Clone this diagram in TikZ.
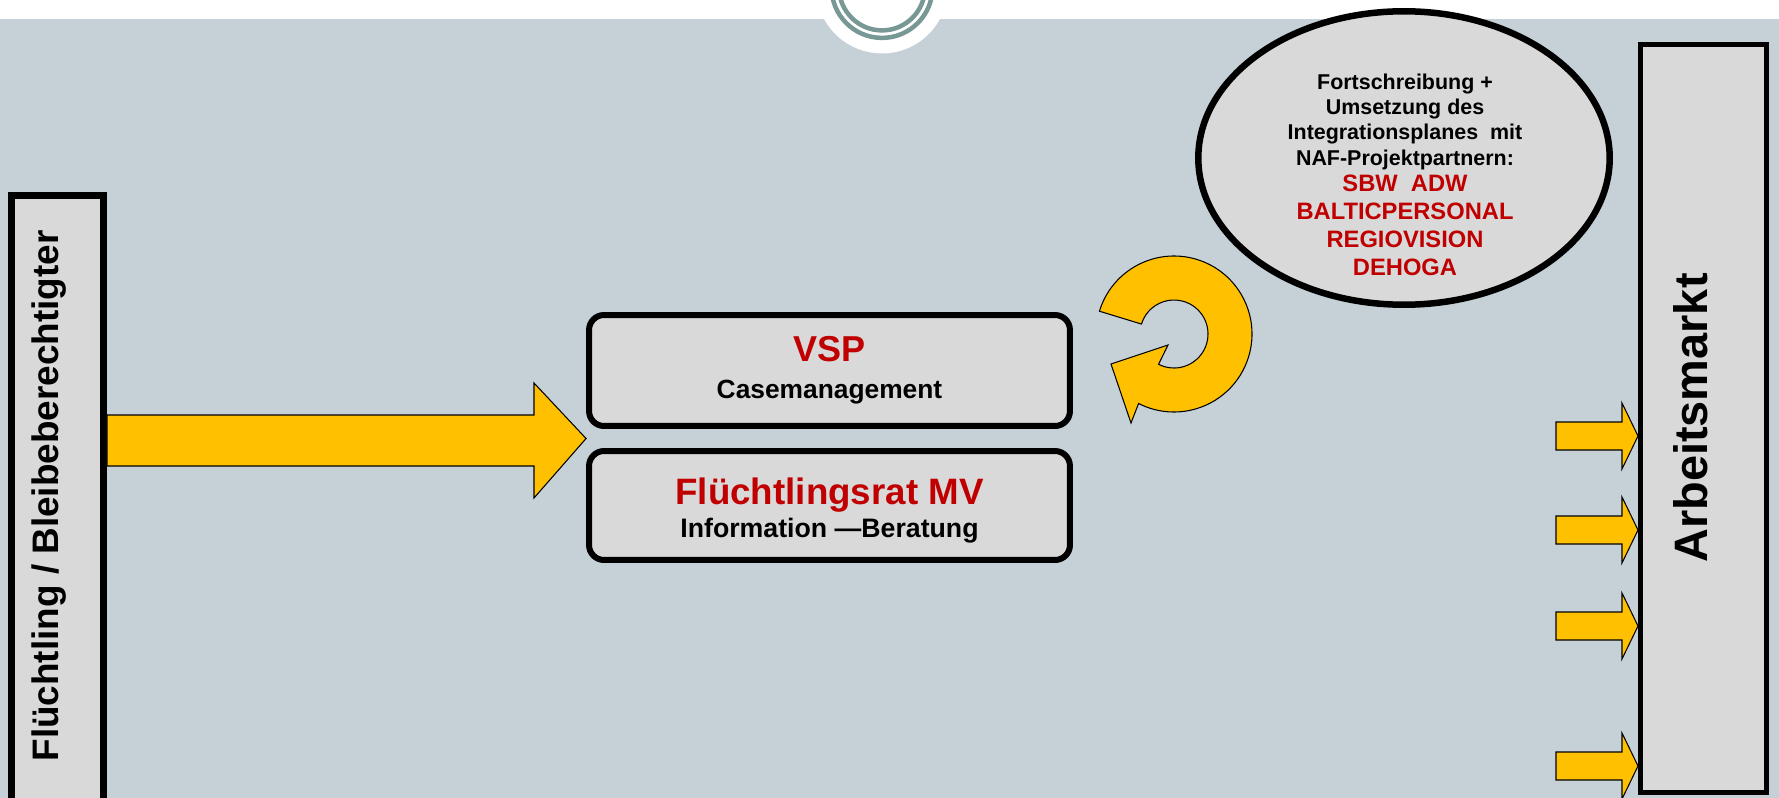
\documentclass[tikz,border=0pt]{standalone}
\usepackage{fontspec}
\setmainfont{Liberation Sans}
\usetikzlibrary{shapes,calc}
\definecolor{bggray}{RGB}{197,209,215}
\definecolor{boxgray}{RGB}{217,217,217}
\definecolor{arrowyellow}{RGB}{255,192,0}
\definecolor{darkred}{RGB}{192,0,0}
\definecolor{ringteal}{RGB}{120,152,150}
\newcommand{\redline}[1]{{\color{darkred}\fontsize{13.5}{14.2}\selectfont #1}}

\begin{document}
\begin{tikzpicture}[x=0.02cm,y=-0.02cm]
        \tikzstyle{every node}=[font=\bfseries]
        \tikzstyle{box}=[draw=black,fill=boxgray,inner sep=0pt]
        \tikzstyle{partnerbox}=[box,line width=0.12cm,rounded corners=0.3cm,minimum width=9.62cm,align=center]
        \tikzstyle{blockarrow}=[draw=black,fill=arrowyellow,line width=0.6pt,line join=miter]
        \useasboundingbox (0,0) rectangle (1779,798);
        \fill[bggray] (0,19) rectangle (1779,798);
        \fill[white] (882,-12.6) circle (66);
        \draw[ringteal,line width=0.09cm] (882,-12.6) circle (50.5);
        \draw[ringteal,line width=0.09cm] (882,-12.6) circle (43);
        \node[box,line width=0.14cm,minimum width=1.84cm,minimum height=12.69cm] (refugee) at (57.5,512.75) {};
        \node[rotate=90,anchor=base,font=\bfseries\fontsize{21}{25}\selectfont] (refugeetext) at (58,496) {Flüchtling / Bleibeberechtigter};
        \node[partnerbox,minimum height=2.22cm,font=\bfseries\fontsize{15}{21}\selectfont] (vsp) at (829.5,370.5)
          {{\fontsize{20.5}{21}\selectfont\color{darkred}VSP}\\Casemanagement};
        \node[partnerbox,minimum height=2.18cm,font=\bfseries\fontsize{15.2}{18.5}\selectfont] (frmv) at (829.5,505.5)
          {\rule{0pt}{0.74cm}{\fontsize{20.9}{18.5}\selectfont\color{darkred}Flüchtlingsrat MV}\\Information —Beratung};
        \node[box,ellipse,line width=0.13cm,minimum width=8.23cm,minimum height=5.87cm] (plan) at (1404,158) {};
        \node[align=center,font=\bfseries\fontsize{12.2}{14.2}\selectfont] (plantext) at (1405,175)
          {Fortschreibung +\\Umsetzung des\\Integrationsplanes\ \ mit\\[0.6pt]NAF-Projektpartnern:\\[0.6pt]\redline{SBW\ \ ADW}\\[1.7pt]\redline{BALTICPERSONAL}\\[1.7pt]\redline{REGIOVISION}\\[1.7pt]\redline{DEHOGA}};
        \node[box,line width=0.1cm,minimum width=2.52cm,minimum height=14.96cm] (market) at (1703.5,418.5) {};
        \node[rotate=90,anchor=base,font=\bfseries\fontsize{26.7}{30}\selectfont] (markettext) at (1707,418) {Arbeitsmarkt};
        \coordinate (gap) at ($(vsp.south west)!0.5!(frmv.north west)$);
        \coordinate (loop) at (1174,334);
        \filldraw[blockarrow] (refugee.east |- 0,415) -- (534,415) -- (534,383) -- (gap) -- (534,498) -- (534,466) -- (refugee.east |- 0,466) -- cycle;
        \filldraw[blockarrow] (loop) ++(197:78) arc (197:477:78) -- (1131,423) -- (1111,364) -- (1168,345) -- ($(loop)+(477:34)$) arc (477:197:34) -- cycle;
        \foreach \y in {436,530,626,766}
          \filldraw[blockarrow] (1556,{\y-14}) -- (1622,{\y-14}) -- (1622,{\y-33}) -- (market.west |- 0,\y) -- (1622,{\y+33}) -- (1622,{\y+14}) -- (1556,{\y+14}) -- cycle;
      \end{tikzpicture}
\end{document}
